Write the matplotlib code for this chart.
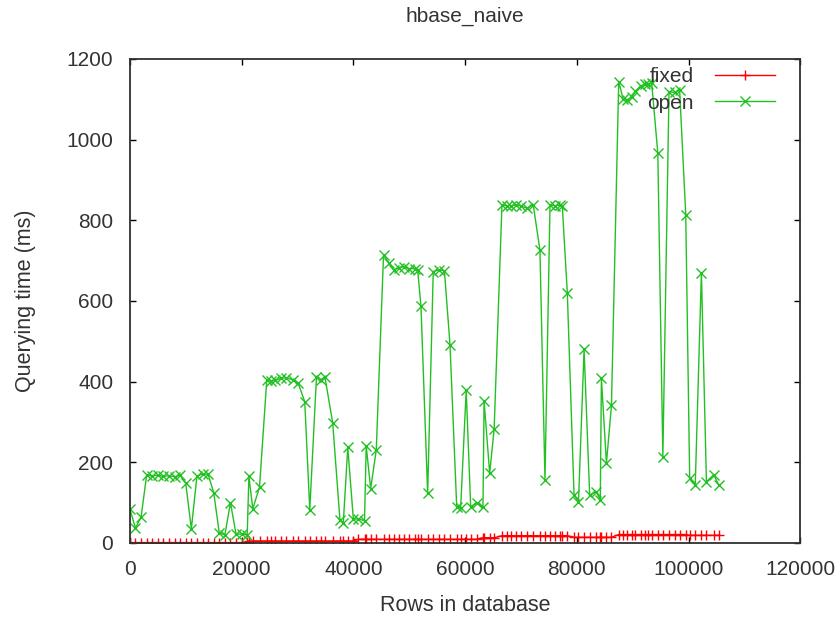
import matplotlib
matplotlib.use("Agg")
import matplotlib.pyplot as plt

plt.rcParams['font.family'] = ['Liberation Sans', 'DejaVu Sans']

# rows in database (x), shared by both series
rows = [0, 1000, 2000, 3000, 4000, 5000, 6000, 7000, 8000, 9000,
        10000, 11000, 12000, 13000, 14000, 15000, 16000, 17000, 18000, 19000,
        20000, 21000, 21300, 22000, 23200, 24500, 25200, 26000, 27000, 28000,
        29200, 30100, 31300, 32200, 33400, 34200, 34900, 36300, 37600, 38200,
        39000, 40000, 40900, 42000, 42300, 43100, 44100, 45400, 46300, 47200,
        48100, 49000, 50000, 51000, 51500, 52100, 53300, 54300, 55300, 56300,
        57300, 58500, 59200, 60200, 61000, 62100, 63200, 63400, 64400, 65200,
        66600, 67500, 68300, 69200, 70000, 71100, 72200, 73400, 74300, 75200,
        76100, 77000, 77400, 78300, 79500, 80300, 81300, 82300, 83500, 84200,
        84400, 85300, 86200, 87500, 88300, 88900, 89800, 90500, 91400, 92200,
        92800, 93400, 94500, 95400, 96500, 97500, 98400, 99500, 100200, 101200,
        102300, 103200, 104500, 105400]

open_ms = [84, 37, 64, 168, 166, 168, 165, 167, 164, 168,
           148, 35, 166, 171, 170, 125, 25, 20, 100, 22,
           22, 20, 165, 85, 138, 404, 402, 403, 408, 410,
           404, 397, 350, 82, 412, 405, 412, 298, 57, 50,
           237, 59, 60, 55, 240, 135, 230, 714, 695, 677,
           682, 685, 680, 680, 678, 588, 123, 673, 677, 675,
           491, 90, 86, 379, 90, 100, 88, 352, 173, 282,
           838, 836, 836, 838, 835, 830, 838, 726, 156, 838,
           836, 838, 836, 619, 120, 102, 480, 119, 127, 107,
           408, 198, 341, 1144, 1100, 1098, 1105, 1120, 1133, 1137,
           1138, 1140, 966, 214, 1119, 1117, 1123, 813, 160, 144,
           670, 152, 169, 144]

fixed_ms = [1, 1, 1, 1, 1, 1, 1, 1, 1, 1,
            1, 1, 1, 1, 1, 1, 1, 1, 1, 1,
            1, 2, 5, 5, 5, 5, 5, 5, 5, 5,
            5, 5, 5, 5, 5, 5, 5, 5, 5, 5,
            5, 5, 9, 9, 9, 9, 9, 9, 9, 9,
            9, 9, 9, 9, 9, 9, 9, 9, 9, 9,
            9, 9, 9, 9, 9, 9, 13, 13, 13, 13,
            18, 18, 18, 18, 18, 18, 18, 18, 18, 18,
            18, 18, 18, 18, 14, 14, 14, 14, 14, 14,
            14, 14, 14, 21, 21, 21, 21, 21, 21, 21,
            21, 21, 21, 21, 21, 21, 21, 21, 19, 19,
            19, 19, 19, 19]

fig = plt.figure(figsize=(8.38, 6.18), dpi=100)
ax = fig.add_axes([0.155, 0.1214, 0.8, 0.7832])

ax.plot(rows, fixed_ms, color='#ff0000', lw=1, marker='+', ms=7.5, mew=1, label='fixed')
ax.plot(rows, open_ms, color='#22c022', lw=1, marker='x', ms=7, mew=1, label='open')

ax.set_xlim(0, 120000)
ax.set_ylim(0, 1200)
ax.set_xticks(range(0, 120001, 20000))
ax.set_yticks(range(0, 1201, 200))
ax.tick_params(direction='in', length=4, width=1, top=True, right=True,
               labelsize=15, labelcolor='#333333')
ax.tick_params(axis='y', pad=12)
ax.tick_params(axis='x', pad=12)
for s in ax.spines.values():
    s.set_linewidth(1.3)
    s.set_color('#303030')

ax.set_title('hbase_naive', fontsize=15, pad=27, color='#333333')
ax.set_xlabel('Rows in database', fontsize=15.5, labelpad=12, color='#333333')
ax.set_ylabel('Querying time (ms)', fontsize=15.5, labelpad=22, color='#333333')

ax.legend(loc='upper right', frameon=False, markerfirst=False, fontsize=15,
          handlelength=2.9, labelspacing=0.35, borderaxespad=0, handletextpad=1.0,
          bbox_to_anchor=(0.975, 1.0), labelcolor='#333333')

fig.savefig('out.png', dpi=100)
